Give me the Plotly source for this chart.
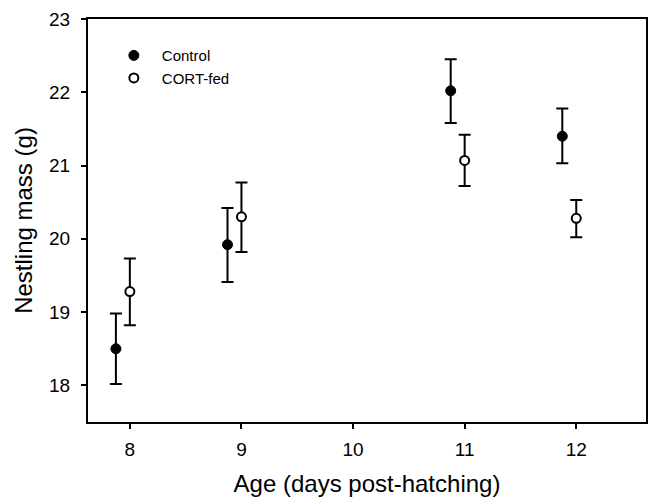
import plotly.graph_objects as go

ages = [8, 9, 11, 12]
offset_control = -0.125

control_mean = [18.50, 19.92, 22.02, 21.40]
control_hi = [18.98, 20.42, 22.45, 21.78]
control_lo = [18.02, 19.41, 21.58, 21.03]

cort_mean = [19.28, 20.30, 21.07, 20.28]
cort_hi = [19.73, 20.77, 21.42, 20.53]
cort_lo = [18.82, 19.82, 20.72, 20.02]

x_ticks = [8, 9, 10, 11, 12]
y_ticks = [18, 19, 20, 21, 22, 23]

def err(mean, hi, lo):
    return dict(type="data", symmetric=False,
                array=[h - m for h, m in zip(hi, mean)],
                arrayminus=[m - l for m, l in zip(mean, lo)],
                color="black", thickness=2, width=6)

fig = go.Figure()
fig.add_trace(go.Scatter(
    x=[a + offset_control for a in ages], y=control_mean, mode="markers",
    name="Control",
    marker=dict(symbol="circle", size=10, color="black", line=dict(color="black", width=1)),
    error_y=err(control_mean, control_hi, control_lo),
))
fig.add_trace(go.Scatter(
    x=ages, y=cort_mean, mode="markers",
    name="CORT-fed",
    marker=dict(symbol="circle", size=9, color="white", line=dict(color="black", width=2)),
    error_y=err(cort_mean, cort_hi, cort_lo),
))

font = "Liberation Sans, Arial, sans-serif"
fig.update_layout(
    width=651, height=498,
    margin=dict(l=88, r=3, t=19, b=76),
    paper_bgcolor="white", plot_bgcolor="white",
    font=dict(family=font, color="black"),
    showlegend=True,
    legend=dict(x=0.032, y=0.95, xanchor="left", yanchor="top",
                bgcolor="rgba(0,0,0,0)", font=dict(size=15, family=font),
                itemwidth=46, tracegroupgap=0),
    xaxis=dict(range=[7.625, 12.625], tickvals=x_ticks, ticks="outside", ticklen=5,
               tickwidth=2, tickcolor="black", showline=True, linecolor="black",
               linewidth=2, mirror=True, showgrid=False, zeroline=False,
               ticklabelstandoff=4,
               tickfont=dict(size=19), title=dict(text="Age (days post-hatching)",
               font=dict(size=24), standoff=16)),
    yaxis=dict(range=[17.5, 23], tickvals=y_ticks, ticks="outside", ticklen=5,
               tickwidth=2, tickcolor="black", showline=True, linecolor="black",
               linewidth=2, mirror=True, showgrid=False, zeroline=False,
               ticklabelstandoff=7,
               tickfont=dict(size=19), title=dict(text="Nestling mass (g)",
               font=dict(size=24), standoff=10)),
)

fig.write_html("out.html")
